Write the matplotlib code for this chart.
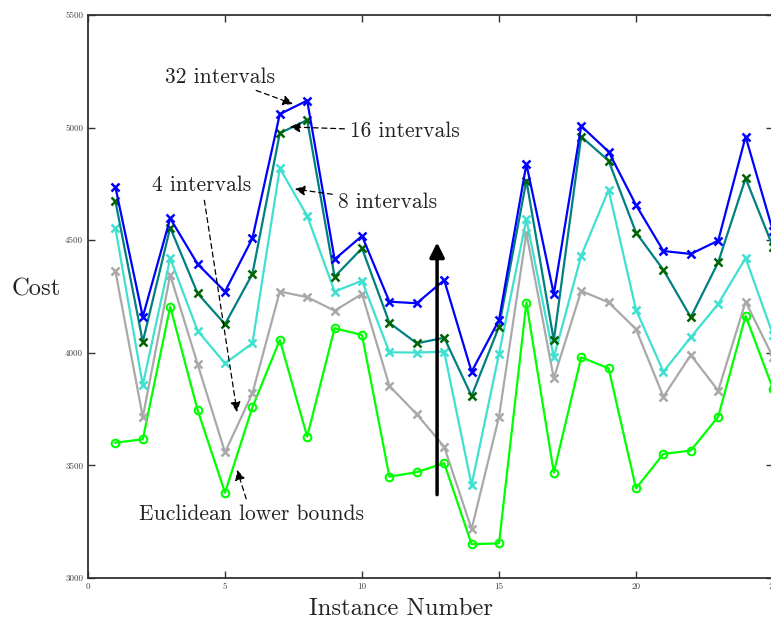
import numpy as np
import matplotlib
matplotlib.use("Agg")
import matplotlib.pyplot as plt

# instances 1..25
instances = list(range(1, 26))
cost_32 = [4736, 4160, 4597, 4394, 4272, 4508, 5060, 5120, 4415, 4519,
           4227, 4220, 4323, 3916, 4145, 4838, 4261, 5007, 4893, 4656,
           4452, 4439, 4498, 4960, 4540]
cost_16 = [4674, 4049, 4556, 4264, 4127, 4350, 4975, 5034, 4338, 4464,
           4133, 4042, 4067, 3808, 4116, 4765, 4055, 4960, 4853, 4534,
           4368, 4158, 4402, 4775, 4470]
cost_8 = [4553, 3857, 4420, 4098, 3953, 4042, 4819, 4608, 4272, 4320,
          4002, 4001, 4005, 3413, 3995, 4593, 3980, 4431, 4723, 4191,
          3916, 4069, 4217, 4421, 4080]
cost_4 = [4363, 3714, 4346, 3950, 3558, 3820, 4272, 4247, 4187, 4261,
          3853, 3727, 3583, 3217, 3716, 4531, 3887, 4275, 4224, 4105,
          3805, 3990, 3832, 4227, 3980]
euclid = [3601, 3616, 4205, 3746, 3379, 3758, 4057, 3628, 4109, 4079,
          3450, 3470, 3510, 3150, 3154, 4223, 3468, 3980, 3931, 3398,
          3551, 3566, 3716, 4164, 3840]

plt.rcParams["font.family"] = "serif"
plt.rcParams["font.serif"] = ["cmr10", "DejaVu Serif"]
plt.rcParams["mathtext.fontset"] = "cm"
plt.rcParams["axes.unicode_minus"] = False

fig = plt.figure(figsize=(7.71, 6.25), dpi=100)
# right spine sits just past the image edge, as in the source figure
ax = fig.add_axes([88 / 771, 47 / 625, 685 / 771, 563 / 625])

lw = 1.6
ax.plot(instances, euclid, color="#00ff00", lw=lw, marker="o", ms=5.5,
        mfc="none", mec="#00ff00", mew=1.5)
ax.plot(instances, cost_4, color="#a9a9a9", lw=lw, marker="x", ms=6, mew=1.8)
ax.plot(instances, cost_8, color="#40e0d0", lw=lw, marker="x", ms=6, mew=1.8)
ax.plot(instances, cost_16, color="#008080", lw=lw, marker="x", ms=6, mew=1.8,
        mec="#006400")
ax.plot(instances, cost_32, color="#0000ff", lw=lw, marker="x", ms=6, mew=1.8)

ax.set_xlim(0, 25)
ax.set_ylim(3000, 5500)
ax.set_xticks([0, 5, 10, 15, 20, 25])
ax.set_yticks([3000, 3500, 4000, 4500, 5000, 5500])
ax.tick_params(direction="in", top=True, right=True, labelsize=6.5,
               labelcolor="#444444", color="#333333", length=5, width=1)
for s in ax.spines.values():
    s.set_linewidth(1.3)
    s.set_color("#333333")

ax.set_xlabel("Instance Number", fontsize=17.7, color="#222222", va="center")
ax.xaxis.set_label_coords(0.457, -0.055)
ax.set_ylabel("Cost", fontsize=17.7, color="#222222", rotation=0, va="center")
ax.yaxis.set_label_coords(-0.076, 0.512)

dash = dict(arrowstyle="-|>", linestyle=(0, (4, 3)), color="black", lw=0.9,
            mutation_scale=15, shrinkA=2, shrinkB=0)
tc = "#222222"
fs = 15.5
ax.annotate("32 intervals", xy=(7.48, 5105), xytext=(4.8, 5225),
            fontsize=fs, color=tc, ha="center", va="center", arrowprops=dash)
ax.annotate("16 intervals", xy=(7.37, 5003), xytext=(9.56, 4985),
            fontsize=fs, color=tc, ha="left", va="center", arrowprops=dash)
ax.annotate("8 intervals", xy=(7.55, 4727), xytext=(9.12, 4670),
            fontsize=fs, color=tc, ha="left", va="center", arrowprops=dash)
ax.annotate("4 intervals", xy=(5.44, 3737), xytext=(4.16, 4745),
            fontsize=fs, color=tc, ha="center", va="center", arrowprops=dash)
ax.annotate("Euclidean lower bounds", xy=(5.44, 3480), xytext=(5.95, 3284),
            fontsize=fs, color=tc, ha="center", va="center", arrowprops=dash)

ax.annotate("", xy=(12.74, 4490), xytext=(12.74, 3370),
            arrowprops=dict(arrowstyle="-|>", color="black", lw=2.5,
                            mutation_scale=22, shrinkA=0, shrinkB=0))

fig.savefig("out.png", dpi=100)
